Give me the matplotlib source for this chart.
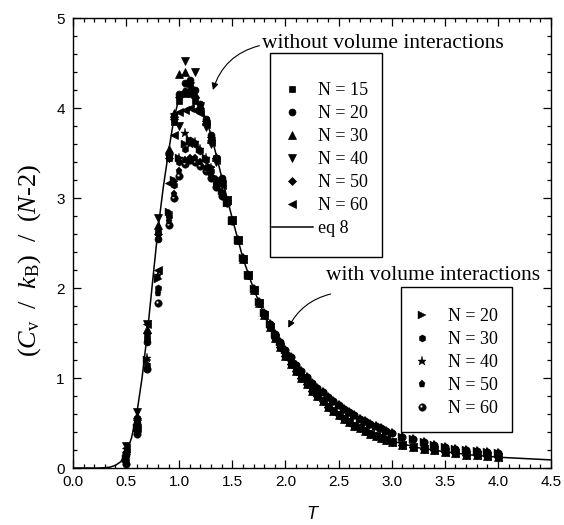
import numpy as np
import matplotlib
matplotlib.use('Agg')
import matplotlib.pyplot as plt
from matplotlib.path import Path
from matplotlib.patches import Rectangle
from matplotlib.ticker import MultipleLocator, FormatStrFormatter

plt.rcParams['mathtext.fontset'] = 'custom'
plt.rcParams['mathtext.rm'] = 'Liberation Serif'
plt.rcParams['mathtext.it'] = 'Liberation Serif:italic'

# temperatures around the peak (each series has its own values here)
T_peak = [0.5, 0.6, 0.7, 0.8, 0.9, 0.95, 1.0, 1.05, 1.1, 1.15, 1.2, 1.25, 1.3, 1.35, 1.4]
# temperatures of the tail (series of one group coincide there)
T_tail = [1.45, 1.5, 1.55, 1.6, 1.65, 1.7, 1.75, 1.8, 1.85, 1.9, 1.95, 2.0, 2.05, 2.1,
          2.15, 2.2, 2.25, 2.3, 2.35, 2.4, 2.45, 2.5, 2.55, 2.6, 2.65, 2.7, 2.75, 2.8,
          2.85, 2.9, 2.95, 3.0, 3.1, 3.2, 3.3, 3.4, 3.5, 3.6, 3.7, 3.8, 3.9, 4.0]

# without volume interactions
no_vol_labels = ['N = 15', 'N = 20', 'N = 30', 'N = 40', 'N = 50', 'N = 60']
no_vol_markers = ['s', 'o', '^', 'v', 'D', '<']
no_vol_peak = [
    [0.16, 0.55, 1.45, 2.62, 3.45, 3.85, 4.08, 4.15, 4.15, 4.08, 3.98, 3.85, 3.66, 3.44, 3.20],
    [0.14, 0.50, 1.40, 2.55, 3.50, 3.90, 4.15, 4.28, 4.31, 4.20, 4.05, 3.88, 3.70, 3.45, 3.22],
    [0.20, 0.58, 1.55, 2.70, 3.55, 3.95, 4.38, 4.40, 4.28, 4.15, 4.00, 3.86, 3.66, 3.46, 3.18],
    [0.25, 0.62, 1.60, 2.78, 3.45, 3.90, 3.80, 4.52, 4.25, 4.40, 4.02, 3.79, 3.60, 3.40, 3.15],
    [0.18, 0.56, 1.50, 2.60, 3.45, 3.88, 4.12, 4.18, 4.20, 4.12, 4.00, 3.86, 3.68, 3.45, 3.20],
    [0.22, 0.45, 1.60, 2.20, 3.17, 3.70, 3.96, 3.98, 4.00, 3.98, 3.95, 3.82, 3.62, 3.42, 3.15],
]
no_vol_tail = [2.98, 2.76, 2.53, 2.32, 2.14, 1.98, 1.83, 1.70, 1.57, 1.45, 1.35, 1.25, 1.16, 1.08,
               1.00, 0.93, 0.86, 0.80, 0.74, 0.68, 0.63, 0.59, 0.55, 0.51, 0.47, 0.44, 0.41, 0.38,
               0.355, 0.33, 0.31, 0.29, 0.26, 0.235, 0.215, 0.195, 0.18, 0.165, 0.15, 0.14, 0.13, 0.12]

# with volume interactions
vol_labels = ['N = 20', 'N = 30', 'N = 40', 'N = 50', 'N = 60']
vol_peak = [
    [0.10, 0.45, 1.20, 2.10, 2.85, 3.20, 3.45, 3.60, 3.65, 3.62, 3.55, 3.45, 3.35, 3.22, 3.08],
    [0.08, 0.42, 1.15, 2.00, 2.80, 3.15, 3.40, 3.55, 3.65, 3.60, 3.52, 3.42, 3.30, 3.18, 3.05],
    [0.12, 0.48, 1.22, 2.15, 2.82, 3.18, 3.45, 3.72, 3.60, 3.62, 3.55, 3.44, 3.33, 3.20, 3.08],
    [0.06, 0.40, 1.10, 1.95, 2.75, 3.05, 3.30, 3.42, 3.45, 3.44, 3.40, 3.33, 3.25, 3.15, 3.05],
    [0.05, 0.38, 1.10, 1.83, 2.70, 3.00, 3.25, 3.38, 3.42, 3.40, 3.36, 3.30, 3.22, 3.12, 3.02],
]
vol_tail = [2.95, 2.75, 2.53, 2.33, 2.15, 1.99, 1.85, 1.72, 1.60, 1.49, 1.40, 1.31, 1.23, 1.15,
            1.08, 1.01, 0.95, 0.89, 0.84, 0.79, 0.74, 0.70, 0.66, 0.62, 0.585, 0.55, 0.52, 0.49,
            0.465, 0.44, 0.415, 0.39, 0.35, 0.32, 0.29, 0.26, 0.235, 0.215, 0.20, 0.185, 0.175, 0.165]

# eq 8
eq8_T = [0.0, 0.25, 0.3, 0.35, 0.4, 0.45, 0.5, 0.55, 0.6, 0.65, 0.7, 0.75, 0.8, 0.85, 0.9, 0.95,
         1.0, 1.05, 1.1, 1.15, 1.2, 1.25, 1.3, 1.35, 1.4, 1.45, 1.5, 1.6, 1.7, 1.8, 1.9, 2.0,
         2.2, 2.4, 2.6, 2.8, 3.0, 3.25, 3.5, 3.75, 4.0, 4.25, 4.5]
eq8_C = [0.0, 0.0, 0.003, 0.01, 0.03, 0.07, 0.17, 0.33, 0.60, 1.00, 1.50, 2.08, 2.65, 3.12, 3.52, 3.88,
         4.12, 4.22, 4.20, 4.12, 4.02, 3.88, 3.70, 3.47, 3.23, 3.00, 2.77, 2.33, 1.99, 1.71, 1.46, 1.26,
         0.94, 0.69, 0.52, 0.39, 0.30, 0.225, 0.18, 0.145, 0.12, 0.105, 0.09]


def ring(cx, cy, r, n, ccw=True):
    a = np.linspace(0, 2 * np.pi, n, endpoint=False)
    if not ccw:
        a = a[::-1]
    v = np.column_stack([cx + r * np.cos(a), cy + r * np.sin(a)])
    v = np.vstack([v, v[:1]])
    codes = [Path.MOVETO] + [Path.LINETO] * (n - 1) + [Path.CLOSEPOLY]
    return Path(v, codes)


# black ball with a light spot (the N = 60 symbol)
ball = Path.make_compound_path(ring(0, 0, 1.0, 48), ring(-0.28, 0.28, 0.36, 24, ccw=False))
vol_markers = ['>', 'h', '*', 'p', ball]

fig = plt.figure(figsize=(5.64, 5.25), dpi=100)
ax = fig.add_axes([73 / 564, 57 / 525, 478 / 564, 450 / 525])

T_all = T_peak + T_tail
sizes = {'s': 4.6, 'o': 5.0, '^': 5.2, 'v': 5.2, 'D': 4.2, '<': 5.2,
         '>': 5.2, 'h': 5.2, '*': 6.5, 'p': 5.2}

line_eq8, = ax.plot(eq8_T, eq8_C, color='black', lw=1.1, label='eq 8', zorder=2)

h1 = []
for lab, mk, pk in zip(no_vol_labels, no_vol_markers, no_vol_peak):
    h, = ax.plot(T_all, pk + no_vol_tail, ls='none', marker=mk, ms=sizes[mk],
                 color='black', mec='black', mew=0.5, label=lab, zorder=3)
    h1.append(h)

h2 = []
for lab, mk, pk in zip(vol_labels, vol_markers, vol_peak):
    size = sizes.get(mk, 5.4) if isinstance(mk, str) else 5.4
    h, = ax.plot(T_all, pk + vol_tail, ls='none', marker=mk, ms=size,
                 color='black', mec='black', mew=0.3, label=lab, zorder=4)
    h2.append(h)

ax.set_xlim(0.0, 4.5)
ax.set_ylim(0, 5)
ax.xaxis.set_major_locator(MultipleLocator(0.5))
ax.xaxis.set_minor_locator(MultipleLocator(0.1))
ax.yaxis.set_major_locator(MultipleLocator(1))
ax.yaxis.set_minor_locator(MultipleLocator(0.2))
ax.xaxis.set_major_formatter(FormatStrFormatter('%.1f'))
ax.tick_params(which='both', direction='in', top=True, right=True, width=0.9,
               labelsize=11, colors='black')
ax.tick_params(which='major', length=5.5)
ax.tick_params(which='minor', length=3)
ax.tick_params(axis='y', pad=6)
ax.tick_params(axis='x', pad=5)
for lbl in ax.get_xticklabels() + ax.get_yticklabels():
    lbl.set_family('Liberation Sans')
for s in ax.spines.values():
    s.set_linewidth(1.0)

ax.set_xlabel('T', family='Liberation Sans', style='italic', fontsize=13, labelpad=12)
ylab = r'$(C_{\mathrm{v}}\ \ /\ \ k_{\mathrm{B}})\ \ /\ \ (N\mathrm{' + '\u2010' + r'2})$'
ax.set_ylabel(ylab, fontsize=19)
ax.yaxis.set_label_coords(-0.062, 0.462)

# legend boxes drawn as plain rectangles
ax.add_patch(Rectangle((0.412, 0.469), 0.234, 0.453, transform=ax.transAxes,
                       fill=False, lw=1.0, ec='black', zorder=6))
ax.add_patch(Rectangle((0.686, 0.080), 0.232, 0.322, transform=ax.transAxes,
                       fill=False, lw=1.0, ec='black', zorder=6))

leg1 = ax.legend(h1 + [line_eq8], no_vol_labels + ['eq 8'], loc='upper left',
                 bbox_to_anchor=(0.416, 0.857), frameon=False, borderpad=0,
                 borderaxespad=0, handlelength=2.28, handletextpad=0.28,
                 labelspacing=0.33, prop={'family': 'Liberation Serif', 'size': 13})
ax.add_artist(leg1)
leg2 = ax.legend(h2, vol_labels, loc='upper left', bbox_to_anchor=(0.688, 0.355),
                 frameon=False, borderpad=0, borderaxespad=0, handlelength=2.28,
                 handletextpad=0.28, labelspacing=0.33,
                 prop={'family': 'Liberation Serif', 'size': 13})

ax.text(1.78, 4.72, 'without volume interactions', family='Liberation Serif',
        fontsize=15.5, ha='left', va='center')
ax.annotate('', xy=(1.31, 4.17), xytext=(1.78, 4.70),
            arrowprops=dict(arrowstyle='-|>', connectionstyle='arc3,rad=0.3',
                            lw=0.8, color='black', mutation_scale=10))
ax.text(2.38, 2.14, 'with volume interactions', family='Liberation Serif',
        fontsize=15.5, ha='left', va='center')
ax.annotate('', xy=(2.015, 1.53), xytext=(2.45, 1.94),
            arrowprops=dict(arrowstyle='-|>', connectionstyle='arc3,rad=0.25',
                            lw=0.8, color='black', mutation_scale=10))

fig.savefig('out.png', dpi=100)
